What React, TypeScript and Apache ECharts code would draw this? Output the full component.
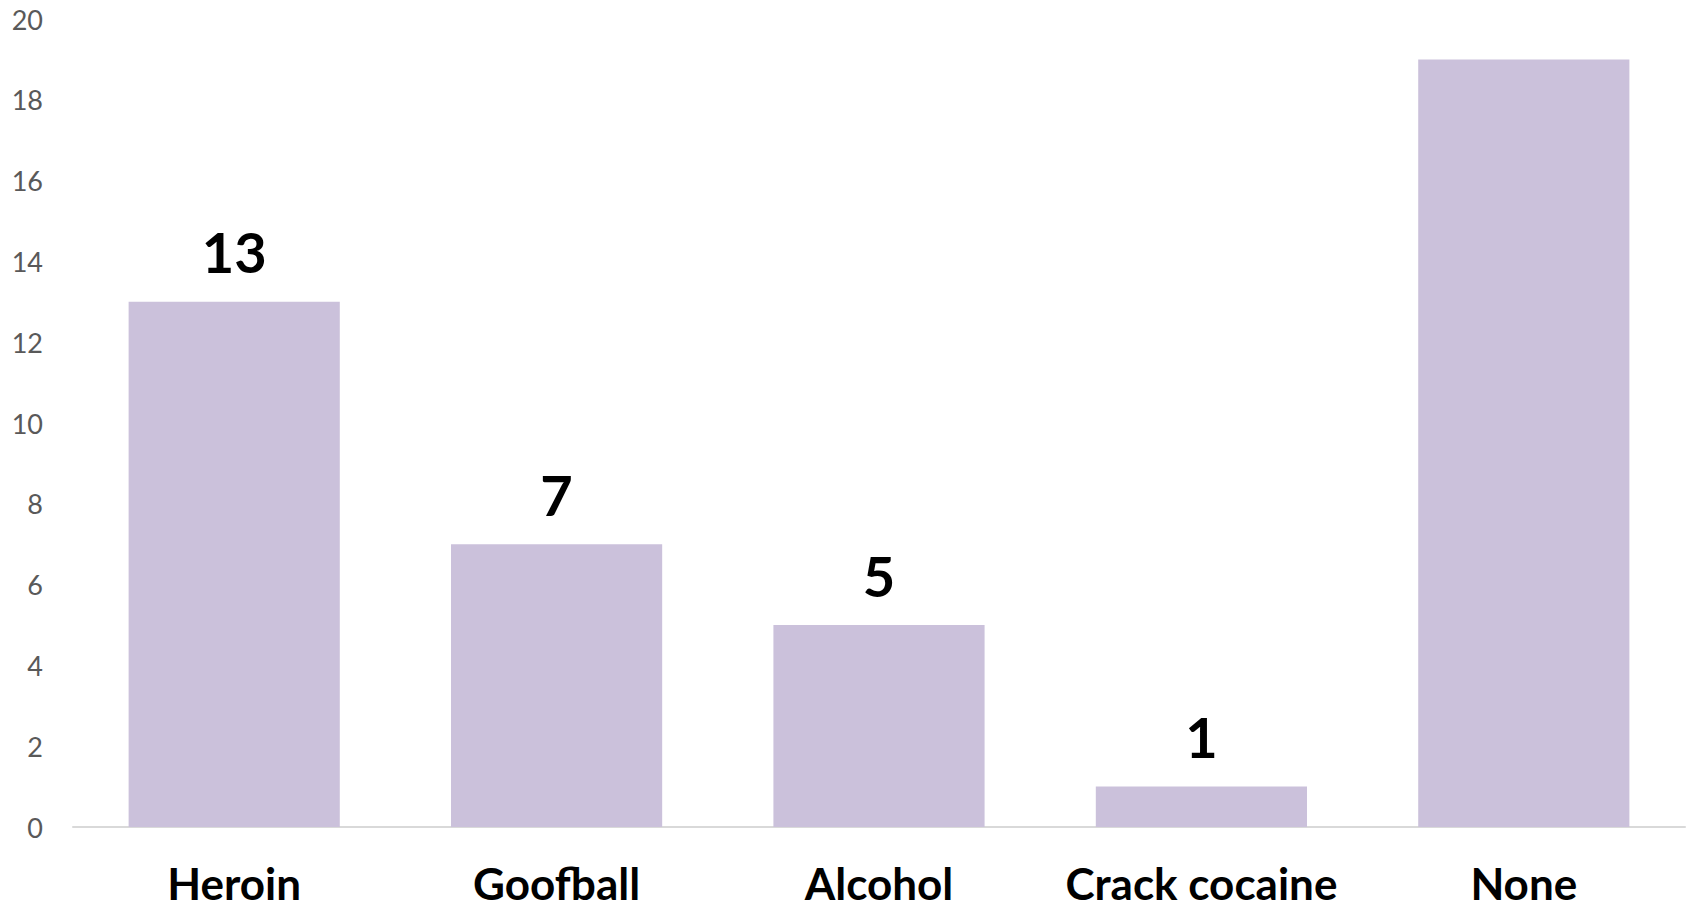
import React, { useEffect, useRef } from "react";
import * as echarts from "echarts";

const categories = ["Heroin", "Goofball", "Alcohol", "Crack cocaine", "None"];
const values = [13, 7, 5, 1, 19];
const showLabel = [true, true, true, true, false];

export default function App() {
  const ref = useRef<HTMLDivElement>(null);
  useEffect(() => {
    const chart = echarts.init(ref.current!, null, { renderer: "svg" });
    chart.setOption({
      animation: false,
      backgroundColor: "#ffffff",
      grid: { left: 73, right: 3, top: 19, bottom: 81, containLabel: false },
      xAxis: {
        type: "category",
        data: categories,
        axisLine: { show: true, lineStyle: { color: "#d9d9d9", width: 2 } },
        axisTick: { show: false },
        axisLabel: {
          fontFamily: "Lato",
          fontWeight: "bold",
          fontSize: 44,
          lineHeight: 40,
          color: "#000000",
          margin: 36,
          interval: 0,
        },
      },
      yAxis: {
        type: "value",
        min: 0,
        max: 20,
        interval: 2,
        axisLine: { show: false },
        axisTick: { show: false },
        splitLine: { show: false },
        axisLabel: {
          fontFamily: "Lato",
          fontSize: 27,
          color: "#595959",
          margin: 30,
        },
      },
      series: [
        {
          type: "bar",
          barWidth: "65.5%",
          itemStyle: { color: "#cbc1db" },
          data: values.map((v, i) => ({
            value: v,
            label: {
              show: showLabel[i],
              position: "top",
              distance: 22,
              fontFamily: "Lato",
              fontWeight: "bold",
              fontSize: 56,
              color: "#000000",
            },
          })),
        },
      ],
    });
    return () => chart.dispose();
  }, []);
  return <div ref={ref} style={{ width: 1688, height: 908, position: "absolute", left: 0, top: 0 }} />;
}
